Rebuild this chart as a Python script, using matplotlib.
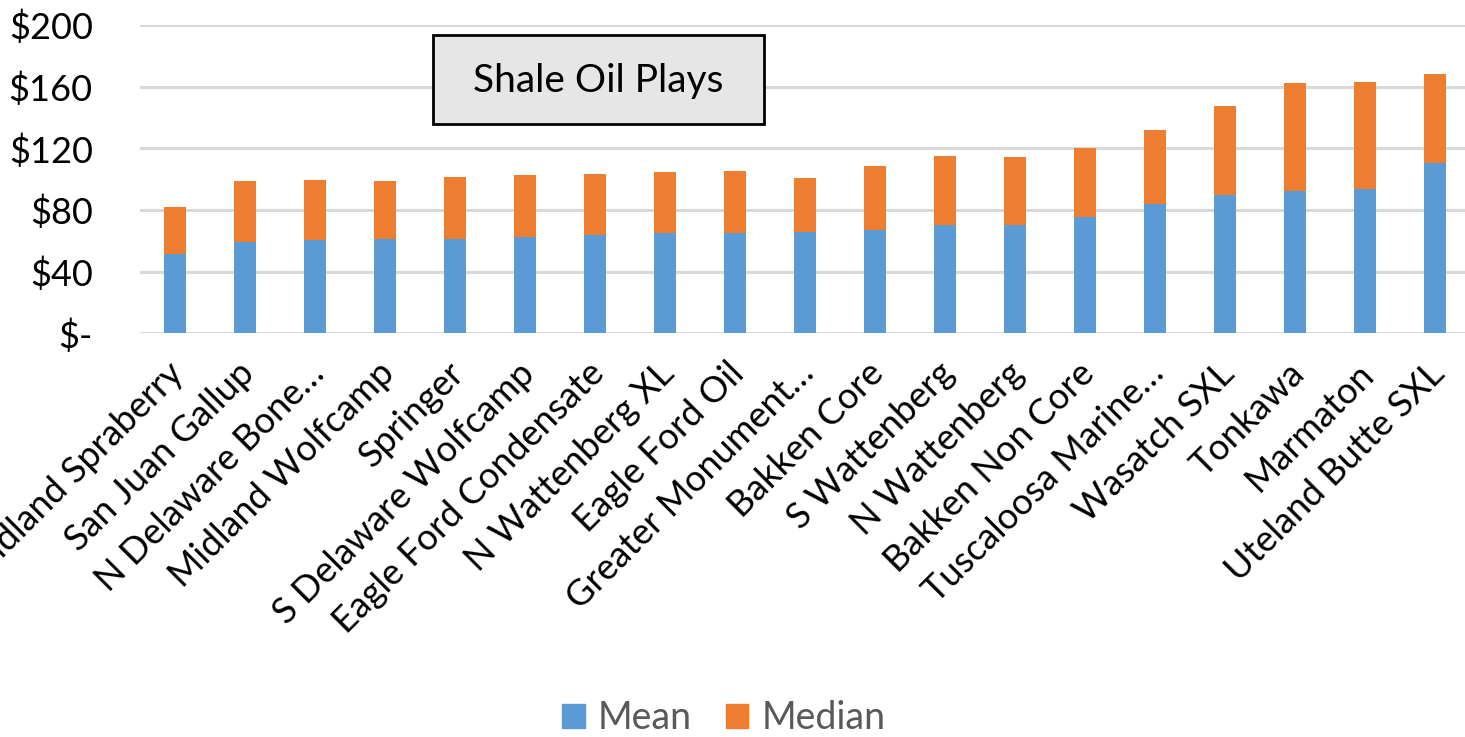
import matplotlib.pyplot as plt
import matplotlib.transforms as mtransforms
from matplotlib.patches import Patch, Rectangle

plt.rcParams['font.family'] = ['Lato', 'DejaVu Sans']

plays = ['Midland Spraberry', 'San Juan Gallup', 'N Delaware Bone…', 'Midland Wolfcamp',
         'Springer', 'S Delaware Wolfcamp', 'Eagle Ford Condensate', 'N Wattenberg XL',
         'Eagle Ford Oil', 'Greater Monument…', 'Bakken Core', 'S Wattenberg',
         'N Wattenberg', 'Bakken Non Core', 'Tuscaloosa Marine…', 'Wasatch SXL',
         'Tonkawa', 'Marmaton', 'Uteland Butte SXL']
mean = [51.5, 59.3, 60.8, 61.2, 61.2, 62.5, 64.0, 64.9, 65.1, 65.8,
        67.1, 70.1, 70.1, 75.3, 84.0, 89.4, 92.2, 93.8, 110.7]
median = [30.3, 39.5, 38.4, 37.6, 40.2, 40.2, 39.1, 39.7, 40.0, 34.7,
          41.4, 44.8, 44.3, 45.2, 47.6, 58.0, 70.2, 69.3, 57.6]
yticks = [0, 40, 80, 120, 160, 200]
ytick_labels = ['$-', '$40', '$80', '$120', '$160', '$200']

blue = '#5B9BD5'
orange = '#ED7D31'

fig = plt.figure(figsize=(14.65, 7.37), dpi=100)
ax = fig.add_axes([140/1465, 1 - 333.3/737, 1330/1465, 308.3/737])

x = range(len(plays))
ax.bar(x, mean, width=0.31, color=blue, edgecolor='none', zorder=3)
ax.bar(x, median, width=0.31, bottom=mean, color=orange, edgecolor='none', zorder=3)

ax.set_xlim(-0.5, len(plays) - 0.5)
ax.set_ylim(0, 200)
ax.set_yticks(yticks)
ax.set_yticklabels(ytick_labels, fontsize=26)
ax.yaxis.grid(True, color='#D9D9D9', linewidth=2.2, zorder=0)
ax.set_xticks(list(x))
ax.set_xticklabels(plays, fontsize=26, rotation=45, ha='right', va='top',
                   rotation_mode='anchor')
for s in ax.spines.values():
    s.set_visible(False)
ax.tick_params(axis='both', length=0)
ax.tick_params(axis='y', pad=34)
ax.tick_params(axis='x', pad=8)

# nudge the slanted labels down-left a little
shift = mtransforms.ScaledTranslation(-8/100, -12/100, fig.dpi_scale_trans)
for lbl in ax.get_xticklabels():
    lbl.set_transform(lbl.get_transform() + shift)

# title box
fig.patches.append(Rectangle((433/1465, 1 - 124/737), 331/1465, 89/737,
                             transform=fig.transFigure, facecolor='#E7E6E6',
                             edgecolor='black', linewidth=2, zorder=5))
fig.text(598/1465, 1 - 81/737, 'Shale Oil Plays', fontsize=28, ha='center',
         va='center', zorder=6)

handles = [Patch(color=blue, label='Mean'), Patch(color=orange, label='Median')]
leg = fig.legend(handles=handles, loc='center', bbox_to_anchor=(724/1465, 1 - 718/737),
                 ncol=2, frameon=False, fontsize=27, handlelength=0.6, handleheight=0.6,
                 handletextpad=0.35, columnspacing=0.9, borderpad=0)
for t in leg.get_texts():
    t.set_color('#595959')

fig.savefig('out.png', dpi=100)
